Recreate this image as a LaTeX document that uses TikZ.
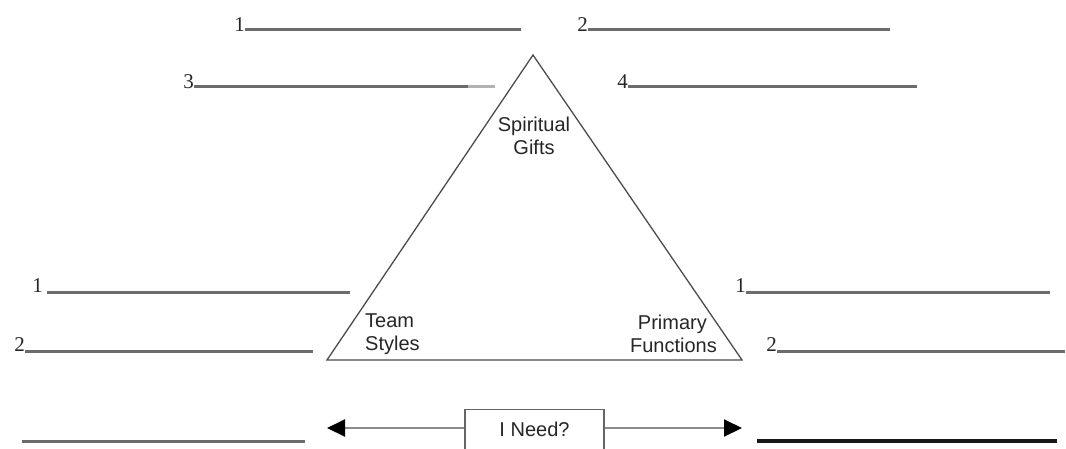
\documentclass[tikz,border=0pt]{standalone}
\usepackage{fontspec}
\setmainfont{Liberation Serif}
\newfontfamily\arialfont{Liberation Sans}
\usetikzlibrary{arrows.meta}
\begin{document}
\begin{tikzpicture}[x=1pt,y=-1pt,
  blank/.style={draw=black!58,line width=3pt},
  num/.style={font=\fontsize{21}{21}\selectfont,anchor=base east,inner sep=0pt,text=black!85},
  lbl/.style={font=\arialfont\fontsize{20}{22.5}\selectfont,inner sep=0pt,text=black!85},
  tri/.style={draw=black!70,line width=1.3pt},
  arr/.style={draw=black!45,line width=2pt,-{Triangle[length=18pt,width=17pt,color=black]}}]
\useasboundingbox (0,0) rectangle (1066,448);
% top row
\node[num] (n1) at (245,31) {1};
\draw[blank] (245,29) coordinate (a1) -- (521,29) coordinate (a2);
\node[num] (n2) at (588,31) {2};
\draw[blank] (588,29) coordinate (b1) -- (890,29) coordinate (b2);
% second row
\node[num] (n3) at (194,88) {3};
\draw[blank] (194,86) coordinate (c1) -- (468,86) coordinate (c2);
\draw[draw=black!30,line width=3pt] (c2) -- (495,86) coordinate (c3);
\node[num] (n4) at (628,88) {4};
\draw[blank] (628,86) coordinate (d1) -- (917,86) coordinate (d2);
% triangle
\coordinate (apex) at (533,55);
\coordinate (bl) at (327,360);
\coordinate (br) at (742,360);
\draw[tri,line join=miter] (apex) -- (bl) -- (br) -- cycle;
\node[lbl,align=center] (sg) at (534,136) {Spiritual\\Gifts};
\node[lbl,align=left,anchor=west] (ts) at (365,334) {Team\\Styles};
\node[lbl,align=right,anchor=east] (pf) at (717,334) {Primary\hspace*{10pt}\\Functions};
% left side
\node[num] (l1) at (43,292) {1};
\draw[blank] (47,292) coordinate (e1) -- (350,292) coordinate (e2);
\node[num] (l2) at (25,351) {2};
\draw[blank] (25,351) coordinate (f1) -- (313,351) coordinate (f2);
% right side
\node[num] (r1) at (746,292) {1};
\draw[blank] (746,292) coordinate (g1) -- (1050,292) coordinate (g2);
\node[num] (r2) at (777,351) {2};
\draw[blank] (777,351) coordinate (h1) -- (1065,351) coordinate (h2);
% bottom
\draw[blank] (22,441) coordinate (i1) -- (305,441) coordinate (i2);
\draw[draw=black!90,line width=3.2pt] (757,441) coordinate (j1) -- (1057,441) coordinate (j2);
\node[draw=black!60,line width=1.3pt,minimum width=139pt,minimum height=44pt,inner sep=0pt,
  anchor=north] (need) at (534.5,409) {};
\node[lbl,anchor=base] (needtxt) at (534.5,436) {I Need?};
\coordinate (lt) at (327,428);
\coordinate (rt) at (742,428);
\draw[arr] (need.west |- lt) -- (lt);
\draw[arr] (need.east |- rt) -- (rt);
\end{tikzpicture}
\end{document}
